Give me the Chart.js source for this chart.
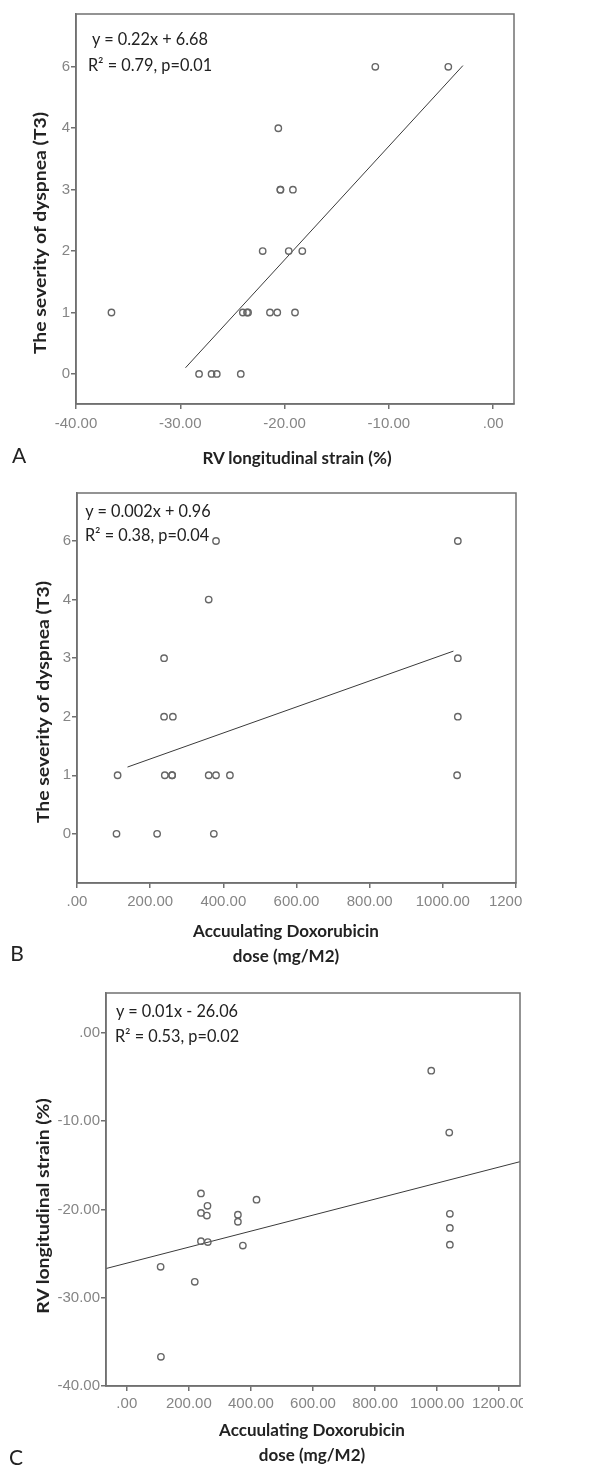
<!DOCTYPE html>
<html lang="en">
<head>
  <meta charset="UTF-8">
  <title>Dyspnea, RV strain and doxorubicin dose</title>
  <script src="https://cdn.jsdelivr.net/npm/chart.js"></script>
  <style>
    body { margin: 0; background: #fff; }
    #page { position: relative; width: 614px; height: 1468px; overflow: hidden; font-family: Lato, "Open Sans", sans-serif; color: #222; }
    .clip { position: absolute; left: 0; overflow: hidden; }
    .box { position: relative; width: 614px; }
    .txt { position: absolute; white-space: nowrap; transform: translate(-50%, -50%); line-height: 1.2; }
    .eq { font-size: 16.3px; }
    .ttl { font-size: 17px; font-weight: bold; }
    .rot { transform: translate(-50%, -50%) rotate(-90deg) scaleX(1.14); }
    .tag { font-size: 21px; }
  </style>
</head>
<body>
<div id="page">
  <div class="clip" style="top:0; width:614px; height:475px;">
    <div class="box" style="height:475px;"><canvas id="chartA"></canvas></div>
  </div>
  <div class="clip" style="top:475px; width:522px; height:495px;">
    <div class="box" style="height:495px;"><canvas id="chartB"></canvas></div>
  </div>
  <div class="clip" style="top:970px; width:523px; height:498px;">
    <div class="box" style="height:498px;"><canvas id="chartC"></canvas></div>
  </div>

  <!-- panel A -->
  <div class="txt eq" style="left:150px; top:39px;">y = 0.22x + 6.68</div>
  <div class="txt eq" style="left:150px; top:65px;">R² = 0.79, p=0.01</div>
  <div class="txt ttl" style="left:297px; top:458px;">RV longitudinal strain (%)</div>
  <div class="txt ttl rot" style="left:40px; top:233px;">The severity of dyspnea (T3)</div>
  <div class="txt tag" style="left:19px; top:455px;">A</div>

  <!-- panel B -->
  <div class="txt eq" style="left:148px; top:511px;">y = 0.002x + 0.96</div>
  <div class="txt eq" style="left:147px; top:535px;">R² = 0.38, p=0.04</div>
  <div class="txt ttl" style="left:286px; top:931px;">Accuulating Doxorubicin</div>
  <div class="txt ttl" style="left:286px; top:956px;">dose (mg/M2)</div>
  <div class="txt ttl rot" style="left:43px; top:702px;">The severity of dyspnea (T3)</div>
  <div class="txt tag" style="left:17px; top:953px;">B</div>

  <!-- panel C -->
  <div class="txt eq" style="left:177px; top:1011px;">y = 0.01x - 26.06</div>
  <div class="txt eq" style="left:177px; top:1036px;">R² = 0.53, p=0.02</div>
  <div class="txt ttl" style="left:312px; top:1430px;">Accuulating Doxorubicin</div>
  <div class="txt ttl" style="left:312px; top:1455px;">dose (mg/M2)</div>
  <div class="txt ttl rot" style="left:43px; top:1206px;">RV longitudinal strain (%)</div>
  <div class="txt tag" style="left:16px; top:1457px;">C</div>
</div>

<script>
  // A: RV longitudinal strain vs dyspnea score
  const strainA = [-11.3, -4.3, -20.6, -20.4, -20.4, -19.2, -22.1, -19.6, -18.3, -36.6, -24.0, -23.6, -23.5, -21.4, -20.7, -19.0, -28.2, -27.0, -26.5, -24.2];
  const dyspneaA = [6, 6, 4, 3, 3, 3, 2, 2, 2, 1, 1, 1, 1, 1, 1, 1, 0, 0, 0, 0];
  const fitStrainA = [-29.5, -2.9];
  const fitDyspneaA = [0.1, 6.04];

  // B: doxorubicin dose vs dyspnea score
  const doseB = [380, 1041, 360, 238, 1041, 238, 262, 1041, 111, 240, 260, 260, 360, 380, 418, 1039, 108, 219, 374];
  const dyspneaB = [6, 6, 4, 3, 3, 2, 2, 2, 1, 1, 1, 1, 1, 1, 1, 1, 0, 0, 0];
  const fitDoseB = [138, 1029];
  const fitDyspneaB = [1.14, 3.12];

  // C: doxorubicin dose vs RV strain
  const doseC = [981, 1039, 239, 260, 418, 239, 258, 358, 1041, 358, 1041, 239, 261, 374, 1041, 109, 219, 110];
  const strainC = [-4.3, -11.3, -18.2, -19.6, -18.9, -20.4, -20.7, -20.6, -20.5, -21.4, -22.1, -23.6, -23.7, -24.1, -24.0, -26.5, -28.2, -36.7];
  const fitDoseC = [-67, 1267];
  const fitStrainC = [-26.7, -14.6];

  // tick values
  const dyspneaTicks = [0, 1, 2, 3, 4, 6];
  const strainTicksA = [-40, -30, -20, -10, 0];
  const doseTicks = [0, 200, 400, 600, 800, 1000, 1200];
  const strainTicksC = [0, -10, -20, -30, -40];

  // the dyspnea axis is ordinal: 6 sits one step above 4
  function dysPos(v) { return v <= 4 ? v : 4 + (v - 4) / 2; }

  // SPSS style labels: 0.00 -> .00
  function fmt(v) { return v.toFixed(2).replace(/^(-?)0\./, '$1.'); }

  const axisGray = '#707070';
  const tickGray = '#858585';

  const framePlugin = {
    id: 'frame',
    afterDatasetsDraw(chart) {
      const { ctx, chartArea: a } = chart;
      ctx.save();
      ctx.strokeStyle = axisGray;
      ctx.lineWidth = 1.5;
      ctx.strokeRect(a.left, a.top, a.right - a.left, a.bottom - a.top);
      ctx.restore();
    }
  };

  function axis(opts) {
    return {
      type: 'linear',
      min: opts.min,
      max: opts.max,
      afterFit: opts.fit,
      afterBuildTicks: s => { s.ticks = opts.ticks.map(v => ({ value: v })); },
      ticks: {
        callback: opts.label,
        color: tickGray,
        font: { family: 'Liberation Sans', size: 15 },
        padding: opts.pad,
        autoSkip: false,
        maxRotation: 0
      },
      grid: { drawOnChartArea: false, tickLength: 5, color: axisGray, lineWidth: 1.5 },
      border: { color: axisGray, width: 1.5 }
    };
  }

  function toPoints(xs, ys, mapY) {
    return xs.map((x, i) => ({ x: x, y: mapY ? mapY(ys[i]) : ys[i] }));
  }

  function makeChart(id, cfg) {
    return new Chart(document.getElementById(id), {
      type: 'scatter',
      data: {
        datasets: [
          {
            data: cfg.points,
            pointRadius: 3.2,
            pointBorderWidth: 1.4,
            pointBorderColor: '#666',
            pointBackgroundColor: 'rgba(255,255,255,0)'
          },
          {
            data: cfg.fit,
            showLine: true,
            pointRadius: 0,
            borderColor: '#3a3a3a',
            borderWidth: 1
          }
        ]
      },
      options: {
        responsive: true,
        maintainAspectRatio: false,
        animation: false,
        layout: { padding: { top: cfg.top, right: cfg.right, left: 0, bottom: 0 } },
        plugins: { legend: { display: false }, tooltip: { enabled: false } },
        scales: { x: cfg.x, y: cfg.y }
      },
      plugins: [framePlugin]
    });
  }

  makeChart('chartA', {
    points: toPoints(strainA, dyspneaA, dysPos),
    fit: toPoints(fitStrainA, fitDyspneaA, dysPos),
    top: 14, right: 100,
    x: axis({ min: -40, max: 2, ticks: strainTicksA, label: v => fmt(v), pad: 6, fit: s => { s.height = 71; } }),
    y: axis({ min: -0.49, max: 5.86, ticks: dyspneaTicks.map(dysPos), label: (v, i) => String(dyspneaTicks[i]), pad: 1, fit: s => { s.width = 76; } })
  });

  makeChart('chartB', {
    points: toPoints(doseB, dyspneaB, dysPos),
    fit: toPoints(fitDoseB, fitDyspneaB, dysPos),
    top: 18, right: 98,
    x: axis({ min: 0, max: 1200, ticks: doseTicks, label: v => fmt(v), pad: 5, fit: s => { s.height = 87; } }),
    y: axis({ min: -0.84, max: 5.82, ticks: dyspneaTicks.map(dysPos), label: (v, i) => String(dyspneaTicks[i]), pad: 1, fit: s => { s.width = 77; } })
  });

  makeChart('chartC', {
    points: toPoints(doseC, strainC),
    fit: toPoints(fitDoseC, fitStrainC),
    top: 23, right: 94,
    x: axis({ min: -67, max: 1267, ticks: doseTicks, label: v => fmt(v), pad: 4, fit: s => { s.height = 82; } }),
    y: axis({ min: -40, max: 4.5, ticks: strainTicksC, label: v => fmt(v), pad: 1, fit: s => { s.width = 106; } })
  });
</script>
</body>
</html>
